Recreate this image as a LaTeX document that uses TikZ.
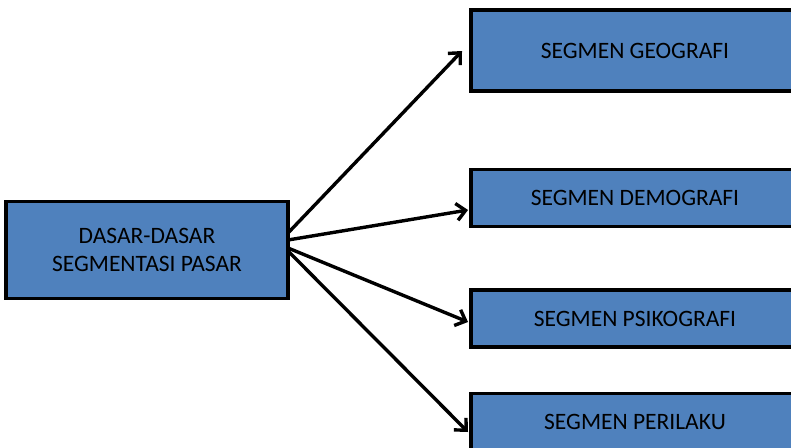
\documentclass[tikz,border=0pt]{standalone}
\usepackage{fontspec}
\setmainfont{Carlito}
\usetikzlibrary{arrows.meta}
\definecolor{boxblue}{HTML}{4F81BD}
\tikzset{
  box/.style={draw=black, line width=3.2pt, fill=boxblue, inner sep=0pt, font=\fontsize{23.5}{28}\selectfont, align=center},
  conn/.style={line width=3.4pt, -{Straight Barb[length=9pt, width=17pt, line width=3.4pt]}}
}
\begin{document}
\begin{tikzpicture}[x=1pt,y=-1pt]
\useasboundingbox (0,0) rectangle (791,447);
\clip (0,0) rectangle (791,447);
\node[box, minimum width=282pt, minimum height=97pt] (src) at (147,250) {DASAR-DASAR\\SEGMENTASI PASAR};
\node[box, minimum width=328pt, minimum height=81pt] (g) at (635,50.5) {SEGMEN GEOGRAFI};
\node[box, minimum width=328pt, minimum height=57pt] (d) at (635,198) {SEGMEN DEMOGRAFI};
\node[box, minimum width=328pt, minimum height=57pt] (p) at (635,318.5) {SEGMEN PSIKOGRAFI};
\node[box, minimum width=328pt, minimum height=57pt] (b) at (635,422) {SEGMEN PERILAKU};
\coordinate (s1) at (288,233);
\coordinate (s2) at (288,240);
\coordinate (s3) at (288,248);
\coordinate (s4) at (288,251);
\coordinate (e1) at (462,51);
\coordinate (e2) at (468,210);
\coordinate (e3) at (468,322);
\coordinate (e4) at (468,432);
\draw[conn] (s1) -- (e1);
\draw[conn] (s2) -- (e2);
\draw[conn] (s3) -- (e3);
\draw[conn] (s4) -- (e4);
\end{tikzpicture}
\end{document}
